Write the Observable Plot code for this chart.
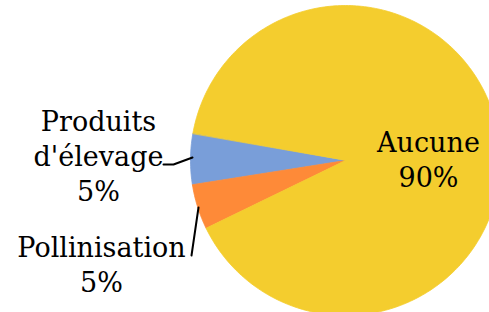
<!DOCTYPE html>
<html>
<head>
<meta charset="utf-8">
<script src="https://cdn.jsdelivr.net/npm/d3@7"></script>
<script src="https://cdn.jsdelivr.net/npm/@observablehq/plot@0.6"></script>
<style>
  html, body { margin: 0; padding: 0; background: #fff; }
</style>
</head>
<body>
<div id="chart"></div>
<script>
// Data
const categories = ["Produits d'élevage", "Pollinisation", "Aucune"];
const values = [5.3, 4.7, 90];
const labels = ["Produits\nd'élevage\n5%", "Pollinisation\n5%", "Aucune\n90%"];
const colors = ["#799ed9", "#fe8a38", "#f4cd2e"];

// Layout
const W = 489, H = 312;
const cx = 345, cy = 160, r = 155;
const startAngle = 169.9; // degrees, counterclockwise from +x
const labelPos = [
  {x: 98, y: 154},
  {x: 101, y: 263},
  {x: 428, y: 158}
];
const leaders = [
  [{x: 163, y: 164}, {x: 173, y: 164}, {x: 192, y: 157}],
  [{x: 191, y: 255}, {x: 198, y: 207}]
];

// Build slice polygons from values
const total = d3.sum(values);
const slicePts = [];
let acc = 0;
values.forEach((v, i) => {
  const a0 = startAngle + 360 * acc / total;
  const a1 = startAngle + 360 * (acc + v) / total;
  acc += v;
  slicePts.push({cat: categories[i], x: cx, y: cy});
  const n = Math.max(4, Math.ceil((a1 - a0) / 1));
  for (let k = 0; k <= n; k++) {
    const a = (a0 + (a1 - a0) * k / n) * Math.PI / 180;
    slicePts.push({cat: categories[i], x: cx + r * Math.cos(a), y: cy - r * Math.sin(a)});
  }
});

const labelData = labels.map((t, i) => ({text: t, x: labelPos[i].x, y: labelPos[i].y}));
const leaderData = leaders.flatMap((pts, i) => pts.map(p => ({id: i, ...p})));

const chart = Plot.plot({
  width: W,
  height: H,
  margin: 0,
  style: {fontFamily: "DejaVu Serif", background: "#fff"},
  x: {domain: [0, W], range: [0, W], axis: null},
  y: {domain: [0, H], range: [0, H], axis: null},
  color: {domain: categories, range: colors},
  marks: [
    Plot.line(slicePts, {x: "x", y: "y", z: "cat", fill: "cat", stroke: "cat", strokeWidth: 0.8, curve: "linear-closed"}),
    Plot.line(leaderData, {x: "x", y: "y", z: "id", stroke: "black", strokeWidth: 2}),
    Plot.text(labelData, {
      x: "x", y: "y", text: "text",
      fontFamily: "DejaVu Serif", fontSize: 27, lineHeight: 1.3,
      textAnchor: "middle", lineAnchor: "middle", fill: "black"
    })
  ]
});
document.getElementById("chart").appendChild(chart);
</script>
</body>
</html>
